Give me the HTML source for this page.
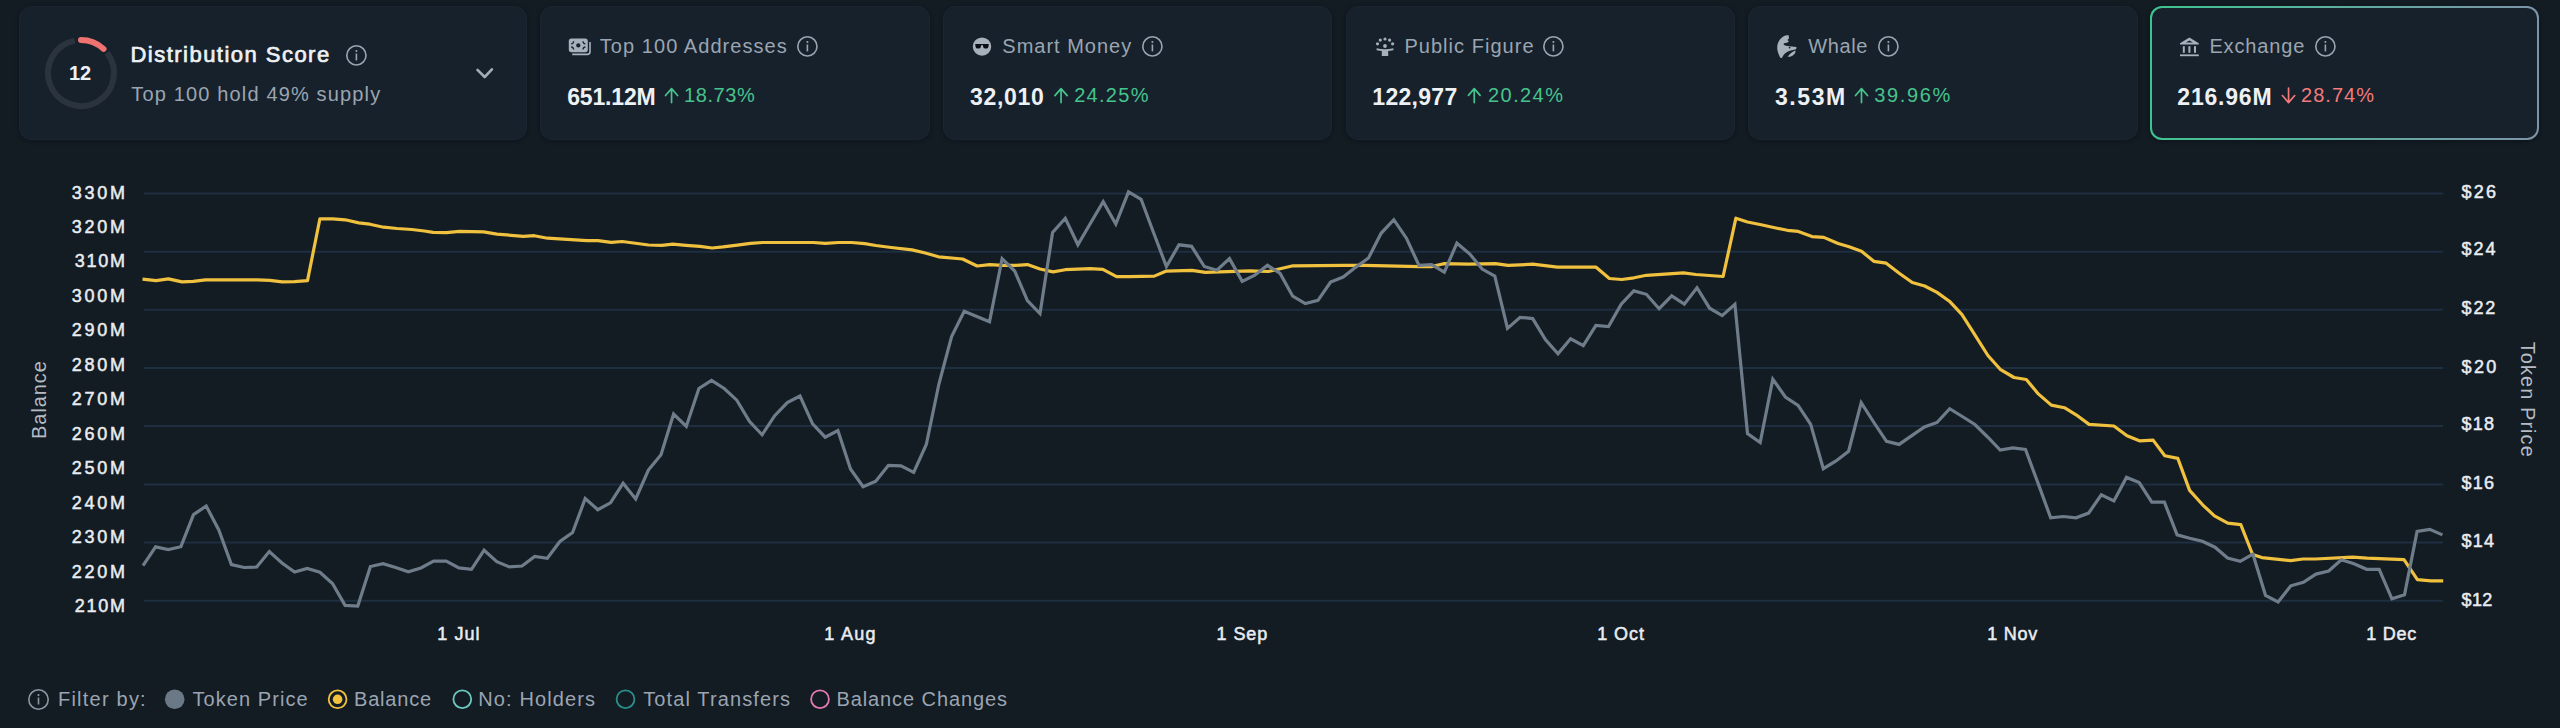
<!DOCTYPE html>
<html><head><meta charset="utf-8"><style>
html,body{margin:0;padding:0;width:2560px;height:728px;overflow:hidden;background:#131b23;font-family:"Liberation Sans", sans-serif;}
.card{position:absolute;top:5.5px;height:134.5px;border-radius:12px;background:#17212c;box-sizing:border-box;border:1px solid #1b2531;box-shadow:0 1px 4px rgba(0,0,0,0.28);}
.card.ex{border:2px solid transparent;background:linear-gradient(#17212c,#17212c) padding-box,linear-gradient(90deg,#3fc48f 0%,#58b39e 40%,#7d93a8 100%) border-box;}
.ic{position:absolute;overflow:visible}
.t{position:absolute;white-space:nowrap;line-height:24px}
svg.chart{position:absolute;left:0;top:0}
.grid line{stroke:#1e2f42;stroke-width:2}
.axt{font-family:"Liberation Sans", sans-serif;font-size:20px;fill:#b4bbc4;letter-spacing:0.6px}
</style></head><body>
<div class="card" style="left:19px;width:508px"></div>
<div class="card" style="left:540px;width:390px"></div>
<div class="card" style="left:943px;width:389px"></div>
<div class="card" style="left:1346px;width:389px"></div>
<div class="card" style="left:1748px;width:390px"></div>
<div class="card ex" style="left:2150px;width:389px"></div>
<svg class="ic" style="left:41px;top:33px" width="80" height="80" viewBox="0 0 80 80">
<path d="M 66.00 19.68 A 33 33 0 1 1 33.70 7.61" fill="none" stroke="#2a333e" stroke-width="6"/>
<path d="M 40 7 A 33 33 0 0 1 62.51 15.87" fill="none" stroke="#ef7370" stroke-width="6" stroke-linecap="round"/>
</svg>
<svg class="ic" style="left:474px;top:64px" width="22" height="18" viewBox="0 0 22 18"><path d="M3.5 5.8 L10.7 13 L17.9 5.3" fill="none" stroke="#a3adb8" stroke-width="2.6" stroke-linecap="round" stroke-linejoin="round"/></svg>
<svg class="ic" style="left:567px;top:37px" width="26" height="20" viewBox="0 0 26 20">
<rect x="1.8" y="1.6" width="19" height="13.6" rx="2.6" fill="#a7b1bc"/>
<path d="M23 5 V14.8 a2.6 2.6 0 0 1 -2.6 2.6 H5.2" fill="none" stroke="#a7b1bc" stroke-width="1.6"/>
<circle cx="11.3" cy="8.4" r="2.1" fill="#17212c"/>
<path d="M6.6 4.2 q0 2.4 -2.4 2.6 M16 4.2 q0 2.4 2.4 2.6 M6.6 12.6 q0 -2.4 -2.4 -2.6 M16 12.6 q0 -2.4 2.4 -2.6" fill="none" stroke="#1a2230" stroke-width="1.3"/>
</svg>
<svg class="ic" style="left:972px;top:36px" width="21" height="21" viewBox="0 0 21 21">
<circle cx="10" cy="10.6" r="9.2" fill="#a7b1bc"/>
<path d="M3.2 8.1 H16.8 L16.4 11 Q16 12.5 14.4 12.5 H13.2 Q11.6 12.5 11.2 11 L10.9 9.3 H9.1 L8.8 11 Q8.4 12.5 6.8 12.5 H5.6 Q4 12.5 3.6 11 Z" fill="#0b0f15"/>
</svg>
<svg class="ic" style="left:1374px;top:36px" width="22" height="22" viewBox="0 0 22 22">
<g fill="#a7b1bc">
<circle cx="6.3" cy="4.1" r="1.6"/><circle cx="11" cy="3" r="1.6"/><circle cx="15.6" cy="4.1" r="1.6"/>
<circle cx="3.5" cy="7.8" r="1.6"/><circle cx="18.6" cy="7.8" r="1.6"/><circle cx="11" cy="10" r="1.9"/>
<path d="M2.6 12.3 Q11 14.2 19.4 12.3 L19.4 14.2 Q15.5 15 14.2 15 V20 H7.8 V15 Q6.5 15 2.6 14.2 Z"/>
</g></svg>
<svg class="ic" style="left:1775px;top:33px" width="24" height="27" viewBox="0 0 24 27">
<path fill="#a7b1bc" d="M9.5 2.7 L13.4 2 Q14 3.8 13.9 5.6 Q13.2 6.3 12.4 6.9 Q13.4 7.6 13.9 8.6 Q12.8 9.6 11.7 9.7 L9.1 10.2 Q8.4 11 8.7 11.6 Q9.6 12.5 10.8 12.7 Q12.6 13.1 14.3 13.3 L21.4 14 Q21.5 15.3 21 16.2 Q18.2 16.8 15.6 17.6 Q13.4 18.3 11.7 19.3 Q9.7 20.4 8.6 22 Q7.6 23.4 6.9 25.1 L5.6 25.1 Q4.5 23.6 3.8 21.6 Q2.6 19 2.3 16.3 Q2.1 13.8 2.5 11.5 Q3.3 8.8 4.7 6.7 Q6.8 4.2 9.5 2.7 Z"/>
<path fill="#a7b1bc" d="M12.6 23.8 Q14.2 21.4 16.1 19.9 Q18.2 18.2 20.5 17.4 Q20.6 19.1 20 20.3 Q18.8 22 17 22.9 Q15.2 23.8 12.6 23.8 Z"/>
<circle cx="14.6" cy="14.6" r="0.85" fill="#17212c"/>
</svg>
<svg class="ic" style="left:2178px;top:35px" width="23" height="23" viewBox="0 0 23 23">
<g fill="#a7b1bc">
<path d="M2 8.2 L11.4 2.6 L20.8 8.2 L20.8 9.6 L2 9.6 Z"/>
<rect x="4.8" y="11.2" width="2" height="6.6"/><rect x="10.4" y="11.2" width="2" height="6.6"/><rect x="16" y="11.2" width="2" height="6.6"/>
<rect x="2" y="19.4" width="18.8" height="1.8"/>
</g>
<path d="M7.8 7.6 L11.4 5.4 L15 7.6 Z" fill="#17212c"/>
</svg>
<svg class="ic" style="left:343.50px;top:42.50px" width="24.8" height="24.8" viewBox="0 0 24.8 24.8"><circle cx="12.4" cy="12.4" r="9.60" fill="none" stroke="#9ba5b1" stroke-width="1.6"/><circle cx="12.4" cy="8.00" r="1.05" fill="#9ba5b1"/><rect x="11.60" y="10.50" width="1.6" height="6.9" fill="#9ba5b1"/></svg>
<svg class="ic" style="left:795.20px;top:34.30px" width="24.8" height="24.8" viewBox="0 0 24.8 24.8"><circle cx="12.4" cy="12.4" r="9.60" fill="none" stroke="#9ba5b1" stroke-width="1.6"/><circle cx="12.4" cy="8.00" r="1.05" fill="#9ba5b1"/><rect x="11.60" y="10.50" width="1.6" height="6.9" fill="#9ba5b1"/></svg>
<svg class="ic" style="left:1140.30px;top:34.30px" width="24.8" height="24.8" viewBox="0 0 24.8 24.8"><circle cx="12.4" cy="12.4" r="9.60" fill="none" stroke="#9ba5b1" stroke-width="1.6"/><circle cx="12.4" cy="8.00" r="1.05" fill="#9ba5b1"/><rect x="11.60" y="10.50" width="1.6" height="6.9" fill="#9ba5b1"/></svg>
<svg class="ic" style="left:1541.30px;top:34.30px" width="24.8" height="24.8" viewBox="0 0 24.8 24.8"><circle cx="12.4" cy="12.4" r="9.60" fill="none" stroke="#9ba5b1" stroke-width="1.6"/><circle cx="12.4" cy="8.00" r="1.05" fill="#9ba5b1"/><rect x="11.60" y="10.50" width="1.6" height="6.9" fill="#9ba5b1"/></svg>
<svg class="ic" style="left:1876.10px;top:34.30px" width="24.8" height="24.8" viewBox="0 0 24.8 24.8"><circle cx="12.4" cy="12.4" r="9.60" fill="none" stroke="#9ba5b1" stroke-width="1.6"/><circle cx="12.4" cy="8.00" r="1.05" fill="#9ba5b1"/><rect x="11.60" y="10.50" width="1.6" height="6.9" fill="#9ba5b1"/></svg>
<svg class="ic" style="left:2312.90px;top:34.30px" width="24.8" height="24.8" viewBox="0 0 24.8 24.8"><circle cx="12.4" cy="12.4" r="9.60" fill="none" stroke="#9ba5b1" stroke-width="1.6"/><circle cx="12.4" cy="8.00" r="1.05" fill="#9ba5b1"/><rect x="11.60" y="10.50" width="1.6" height="6.9" fill="#9ba5b1"/></svg>
<svg class="ic" style="left:0;top:0" width="2560" height="140" viewBox="0 0 2560 140"><path d="M671.55 89 V102.6 M665.50 95.55 L671.55 88.6 L677.60 95.55" fill="none" stroke="#46c48d" stroke-width="1.7" stroke-linecap="round" stroke-linejoin="round"/><path d="M1061.05 89 V102.6 M1054.90 95.65 L1061.05 88.6 L1067.20 95.65" fill="none" stroke="#46c48d" stroke-width="1.7" stroke-linecap="round" stroke-linejoin="round"/><path d="M1474.25 89 V102.6 M1468.40 95.35 L1474.25 88.6 L1480.10 95.35" fill="none" stroke="#46c48d" stroke-width="1.7" stroke-linecap="round" stroke-linejoin="round"/><path d="M1861.50 89 V102.6 M1855.50 95.50 L1861.50 88.6 L1867.50 95.50" fill="none" stroke="#46c48d" stroke-width="1.7" stroke-linecap="round" stroke-linejoin="round"/><path d="M2288.55 88 V102.2 M2282.40 95.55 L2288.55 102.6 L2294.70 95.55" fill="none" stroke="#f27a7a" stroke-width="1.7" stroke-linecap="round" stroke-linejoin="round"/></svg>
<svg class="chart" width="2560" height="728" viewBox="0 0 2560 728">
<g class="grid"><line x1="144" y1="193.5" x2="2443" y2="193.5"/><line x1="144" y1="251.7" x2="2443" y2="251.7"/><line x1="144" y1="309.8" x2="2443" y2="309.8"/><line x1="144" y1="368.0" x2="2443" y2="368.0"/><line x1="144" y1="426.1" x2="2443" y2="426.1"/><line x1="144" y1="484.4" x2="2443" y2="484.4"/><line x1="144" y1="542.6" x2="2443" y2="542.6"/><line x1="144" y1="600.8" x2="2443" y2="600.8"/></g>
<text class="axt" transform="translate(46.3,399.6) rotate(-90)" text-anchor="middle" style="letter-spacing:0.9px">Balance</text>
<text class="axt" transform="translate(2521.3,399.8) rotate(90)" text-anchor="middle" style="letter-spacing:1.05px">Token Price</text>
<polyline points="142.5,279.2 156.1,280.6 168.4,278.9 182.0,281.9 193.2,281.4 205.5,279.8 232.7,279.8 257.4,279.8 269.8,280.4 282.2,281.9 294.5,281.6 307.5,280.6 319.9,218.8 332.8,218.8 345.2,219.8 358.8,222.9 369.9,224.2 383.5,227.2 397.1,228.5 411.9,229.5 424.3,231.0 433.2,232.4 446.4,232.7 459.6,231.3 483.7,231.9 496.9,234.1 523.3,236.3 534.3,235.7 547.5,238.2 587.0,240.7 598.0,240.7 611.2,242.3 622.2,241.5 648.6,245.0 661.8,245.3 672.7,244.2 686.0,245.3 700.0,246.4 712.1,248.0 723.1,246.9 737.4,245.1 750.5,243.3 762.6,242.5 813.2,242.5 825.3,243.3 838.5,242.5 851.6,242.5 864.8,243.6 875.8,245.5 891.2,247.5 912.1,249.9 925.3,253.0 938.5,256.8 962.6,259.0 977.1,266.0 989.7,264.6 1002.8,265.4 1015.9,265.4 1027.4,264.6 1040.0,269.0 1053.1,271.9 1065.2,269.7 1090.3,268.7 1102.9,269.3 1116.6,276.6 1129.1,276.6 1154.3,276.1 1165.8,271.2 1192.0,270.4 1205.2,272.3 1250.0,270.8 1268.4,271.5 1293.0,265.8 1344.8,265.4 1364.6,265.4 1419.0,266.6 1431.4,266.6 1443.7,263.7 1468.4,264.2 1495.6,263.7 1508.0,265.4 1532.7,264.2 1557.4,267.1 1595.8,267.1 1609.4,278.5 1621.7,279.5 1634.1,277.8 1646.4,275.3 1683.5,272.8 1695.9,274.5 1723.1,276.5 1735.9,218.2 1747.5,222.0 1761.2,224.8 1773.6,227.5 1787.3,230.3 1798.3,231.4 1812.0,236.6 1823.8,237.4 1838.1,243.5 1849.1,246.8 1861.5,251.2 1873.8,261.3 1886.2,263.2 1899.9,273.7 1912.3,282.5 1924.7,286.0 1937.0,292.4 1949.4,301.2 1961.8,314.3 1974.1,333.6 1987.9,355.5 2000.2,369.3 2014.0,377.5 2026.3,379.5 2038.3,393.9 2051.3,405.1 2064.4,407.7 2076.1,414.8 2089.1,424.4 2113.9,426.0 2127.0,435.7 2140.0,440.9 2153.1,440.1 2164.8,455.7 2177.8,458.4 2189.6,490.4 2202.6,504.8 2214.4,515.8 2227.8,523.2 2240.8,524.6 2252.6,554.5 2261.8,557.6 2290.7,560.7 2303.0,559.0 2315.4,559.0 2352.5,557.2 2367.0,558.2 2404.0,559.7 2417.4,579.6 2430.8,580.9 2443.2,580.9" fill="none" stroke="#f0c13e" stroke-width="3.2" stroke-linejoin="round"/>
<polyline points="143.0,565.6 155.6,546.9 168.3,549.6 180.9,546.7 193.5,514.6 206.2,506.0 218.8,530.0 231.4,564.6 244.1,567.5 256.7,567.0 269.3,551.5 282.0,563.0 294.6,572.0 307.2,568.5 319.9,572.3 332.5,583.5 345.1,605.4 357.8,606.0 370.4,566.5 383.0,563.7 395.7,567.5 408.3,571.7 420.9,568.0 433.6,561.2 446.2,561.2 458.9,567.9 471.5,569.4 484.1,550.2 496.8,561.7 509.4,566.9 522.0,566.0 534.7,556.5 547.3,558.3 559.9,541.5 572.6,532.5 585.2,498.6 597.8,509.7 610.5,502.8 623.1,483.2 635.7,499.0 648.4,470.1 661.0,454.8 673.6,414.0 686.3,426.4 698.9,388.5 711.5,380.4 724.2,388.5 736.8,400.2 749.4,421.4 762.1,434.8 774.7,415.7 787.3,402.6 800.0,396.0 812.6,423.9 825.2,437.2 837.9,430.6 850.5,468.9 863.1,486.7 875.8,481.2 888.4,465.3 901.0,465.8 913.7,472.3 926.3,444.5 938.9,384.0 951.6,336.6 964.2,311.2 976.8,316.5 989.5,321.8 1002.1,258.6 1014.7,271.0 1027.4,300.6 1040.0,313.5 1052.6,232.4 1065.3,218.3 1077.9,244.8 1090.6,223.0 1103.2,201.8 1115.8,224.0 1128.5,191.9 1141.1,199.3 1153.7,233.0 1166.4,266.5 1179.0,244.8 1191.6,246.3 1204.3,266.5 1216.9,270.2 1229.5,258.6 1242.2,281.4 1254.8,275.2 1267.4,265.3 1280.1,273.4 1292.7,296.2 1305.3,303.6 1318.0,300.4 1330.6,282.0 1343.2,277.0 1355.9,267.1 1368.5,258.0 1381.1,233.3 1393.8,219.7 1406.4,238.2 1419.0,265.4 1431.7,264.7 1444.3,272.1 1456.9,243.2 1469.6,253.8 1482.2,269.1 1494.8,276.0 1507.5,328.4 1520.1,317.3 1532.7,318.6 1545.4,339.6 1558.0,353.7 1570.6,338.8 1583.3,345.7 1595.9,325.5 1608.5,326.5 1621.2,304.2 1633.8,290.9 1646.4,294.3 1659.1,308.7 1671.7,295.8 1684.3,304.2 1697.0,287.7 1709.6,308.2 1722.2,315.6 1734.9,304.2 1747.5,433.5 1760.2,442.6 1772.8,379.2 1785.4,397.0 1798.1,405.3 1810.7,424.4 1823.3,468.7 1836.0,460.9 1848.6,451.2 1861.2,402.7 1873.9,422.5 1886.5,441.3 1899.1,444.4 1911.8,435.6 1924.4,427.0 1937.0,422.5 1949.7,408.7 1962.3,416.5 1974.9,424.5 1987.6,437.0 2000.2,450.0 2012.8,447.9 2025.5,449.5 2038.1,483.4 2050.7,517.8 2063.4,516.5 2076.0,517.8 2088.6,513.1 2101.3,494.9 2113.9,500.9 2126.5,477.4 2139.2,482.6 2151.8,502.2 2164.4,502.2 2177.1,534.8 2189.7,538.2 2202.3,541.3 2215.0,547.2 2227.6,558.0 2240.2,561.3 2252.9,554.1 2265.5,595.3 2278.1,601.9 2290.8,585.8 2303.4,582.3 2316.0,574.1 2328.7,571.0 2341.3,559.7 2354.0,563.8 2366.6,569.3 2379.2,569.3 2391.9,598.8 2404.5,594.7 2417.1,531.4 2429.8,529.4 2442.4,534.9" fill="none" stroke="#6f7d8b" stroke-width="3.2" stroke-linejoin="miter" stroke-miterlimit="3"/>
</svg>
<svg class="ic" style="left:26.10px;top:687.00px" width="25.0" height="25.0" viewBox="0 0 25.0 25.0"><circle cx="12.5" cy="12.5" r="9.70" fill="none" stroke="#8d97a3" stroke-width="1.6"/><circle cx="12.5" cy="8.10" r="1.05" fill="#8d97a3"/><rect x="11.70" y="10.60" width="1.6" height="6.9" fill="#8d97a3"/></svg>
<svg class="ic" style="left:150px;top:680px" width="900" height="40" viewBox="150 680 900 40">
<circle cx="174.7" cy="699.3" r="9.8" fill="#6b7886"/>
<circle cx="337.6" cy="699.3" r="8.9" fill="none" stroke="#f2c23e" stroke-width="1.8"/>
<circle cx="337.6" cy="699.3" r="4.8" fill="#f2c23e"/>
<circle cx="462.3" cy="699.2" r="8.9" fill="none" stroke="#6cc9c0" stroke-width="1.8"/>
<circle cx="625.5" cy="699.2" r="8.9" fill="none" stroke="#2a8f8c" stroke-width="1.8"/>
<circle cx="820" cy="699.2" r="8.9" fill="none" stroke="#e07ab0" stroke-width="1.8"/>
</svg>
<div class="t" style="left:130.50px;top:42.70px;font-size:22px;font-weight:normal;color:#eef1f4;letter-spacing:1.471px;-webkit-text-stroke:0.7px #eef1f4">Distribution Score</div>
<div class="t" style="left:131.30px;top:81.70px;font-size:20px;font-weight:normal;color:#9ba5b1;letter-spacing:1.155px">Top 100 hold 49% supply</div>
<div class="t" style="left:69.00px;top:60.50px;font-size:20px;font-weight:bold;color:#eef1f4;letter-spacing:0.000px">12</div>
<div class="t" style="left:599.80px;top:34.20px;font-size:20px;font-weight:normal;color:#9ba5b1;letter-spacing:1.050px">Top 100 Addresses</div>
<div class="t" style="left:1002.30px;top:34.20px;font-size:20px;font-weight:normal;color:#9ba5b1;letter-spacing:1.000px">Smart Money</div>
<div class="t" style="left:1404.40px;top:34.20px;font-size:20px;font-weight:normal;color:#9ba5b1;letter-spacing:1.033px">Public Figure</div>
<div class="t" style="left:1808.20px;top:34.20px;font-size:20px;font-weight:normal;color:#9ba5b1;letter-spacing:0.650px">Whale</div>
<div class="t" style="left:2209.40px;top:34.20px;font-size:20px;font-weight:normal;color:#9ba5b1;letter-spacing:0.857px">Exchange</div>
<div class="t" style="left:567.20px;top:84.60px;font-size:23px;font-weight:bold;color:#eef1f4;letter-spacing:-0.167px">651.12M</div>
<div class="t" style="left:969.90px;top:84.60px;font-size:23px;font-weight:bold;color:#eef1f4;letter-spacing:0.720px">32,010</div>
<div class="t" style="left:1372.30px;top:84.60px;font-size:23px;font-weight:bold;color:#eef1f4;letter-spacing:0.300px">122,977</div>
<div class="t" style="left:1774.90px;top:84.60px;font-size:23px;font-weight:bold;color:#eef1f4;letter-spacing:1.600px">3.53M</div>
<div class="t" style="left:2177.30px;top:84.60px;font-size:23px;font-weight:bold;color:#eef1f4;letter-spacing:0.800px">216.96M</div>
<div class="t" style="left:684.10px;top:83.20px;font-size:20px;font-weight:normal;color:#46c48d;letter-spacing:0.560px">18.73%</div>
<div class="t" style="left:1074.20px;top:83.20px;font-size:20px;font-weight:normal;color:#46c48d;letter-spacing:1.280px">24.25%</div>
<div class="t" style="left:1488.10px;top:83.20px;font-size:20px;font-weight:normal;color:#46c48d;letter-spacing:1.400px">20.24%</div>
<div class="t" style="left:1874.20px;top:83.20px;font-size:20px;font-weight:normal;color:#46c48d;letter-spacing:1.640px">39.96%</div>
<div class="t" style="left:2301.00px;top:83.20px;font-size:20px;font-weight:normal;color:#f27a7a;letter-spacing:1.040px">28.74%</div>
<div class="t" style="left:71.80px;top:180.50px;font-size:18px;font-weight:normal;color:#e9ecf0;letter-spacing:2.733px;-webkit-text-stroke:0.5px #e9ecf0">330M</div>
<div class="t" style="left:71.80px;top:214.97px;font-size:18px;font-weight:normal;color:#e9ecf0;letter-spacing:2.733px;-webkit-text-stroke:0.5px #e9ecf0">320M</div>
<div class="t" style="left:74.80px;top:249.44px;font-size:18px;font-weight:normal;color:#e9ecf0;letter-spacing:1.733px;-webkit-text-stroke:0.5px #e9ecf0">310M</div>
<div class="t" style="left:71.80px;top:283.91px;font-size:18px;font-weight:normal;color:#e9ecf0;letter-spacing:2.733px;-webkit-text-stroke:0.5px #e9ecf0">300M</div>
<div class="t" style="left:71.80px;top:318.38px;font-size:18px;font-weight:normal;color:#e9ecf0;letter-spacing:2.733px;-webkit-text-stroke:0.5px #e9ecf0">290M</div>
<div class="t" style="left:71.80px;top:352.85px;font-size:18px;font-weight:normal;color:#e9ecf0;letter-spacing:2.733px;-webkit-text-stroke:0.5px #e9ecf0">280M</div>
<div class="t" style="left:71.80px;top:387.32px;font-size:18px;font-weight:normal;color:#e9ecf0;letter-spacing:2.733px;-webkit-text-stroke:0.5px #e9ecf0">270M</div>
<div class="t" style="left:71.80px;top:421.79px;font-size:18px;font-weight:normal;color:#e9ecf0;letter-spacing:2.733px;-webkit-text-stroke:0.5px #e9ecf0">260M</div>
<div class="t" style="left:71.80px;top:456.26px;font-size:18px;font-weight:normal;color:#e9ecf0;letter-spacing:2.733px;-webkit-text-stroke:0.5px #e9ecf0">250M</div>
<div class="t" style="left:71.80px;top:490.73px;font-size:18px;font-weight:normal;color:#e9ecf0;letter-spacing:2.733px;-webkit-text-stroke:0.5px #e9ecf0">240M</div>
<div class="t" style="left:71.80px;top:525.20px;font-size:18px;font-weight:normal;color:#e9ecf0;letter-spacing:2.733px;-webkit-text-stroke:0.5px #e9ecf0">230M</div>
<div class="t" style="left:71.80px;top:559.67px;font-size:18px;font-weight:normal;color:#e9ecf0;letter-spacing:2.733px;-webkit-text-stroke:0.5px #e9ecf0">220M</div>
<div class="t" style="left:74.80px;top:594.14px;font-size:18px;font-weight:normal;color:#e9ecf0;letter-spacing:1.733px;-webkit-text-stroke:0.5px #e9ecf0">210M</div>
<div class="t" style="left:2461.50px;top:179.60px;font-size:18px;font-weight:normal;color:#e9ecf0;letter-spacing:2.300px;-webkit-text-stroke:0.5px #e9ecf0">$26</div>
<div class="t" style="left:2461.50px;top:237.30px;font-size:18px;font-weight:normal;color:#e9ecf0;letter-spacing:2.000px;-webkit-text-stroke:0.5px #e9ecf0">$24</div>
<div class="t" style="left:2461.50px;top:296.00px;font-size:18px;font-weight:normal;color:#e9ecf0;letter-spacing:1.900px;-webkit-text-stroke:0.5px #e9ecf0">$22</div>
<div class="t" style="left:2461.50px;top:354.70px;font-size:18px;font-weight:normal;color:#e9ecf0;letter-spacing:2.400px;-webkit-text-stroke:0.5px #e9ecf0">$20</div>
<div class="t" style="left:2461.50px;top:412.40px;font-size:18px;font-weight:normal;color:#e9ecf0;letter-spacing:1.300px;-webkit-text-stroke:0.5px #e9ecf0">$18</div>
<div class="t" style="left:2461.50px;top:471.10px;font-size:18px;font-weight:normal;color:#e9ecf0;letter-spacing:1.300px;-webkit-text-stroke:0.5px #e9ecf0">$16</div>
<div class="t" style="left:2461.50px;top:528.80px;font-size:18px;font-weight:normal;color:#e9ecf0;letter-spacing:1.200px;-webkit-text-stroke:0.5px #e9ecf0">$14</div>
<div class="t" style="left:2461.50px;top:587.50px;font-size:18px;font-weight:normal;color:#e9ecf0;letter-spacing:0.400px;-webkit-text-stroke:0.5px #e9ecf0">$12</div>
<div class="t" style="left:437.20px;top:622.00px;font-size:18px;font-weight:normal;color:#e9ecf0;letter-spacing:1.100px;-webkit-text-stroke:0.5px #e9ecf0">1 Jul</div>
<div class="t" style="left:824.20px;top:622.00px;font-size:18px;font-weight:normal;color:#e9ecf0;letter-spacing:1.350px;-webkit-text-stroke:0.5px #e9ecf0">1 Aug</div>
<div class="t" style="left:1216.50px;top:622.00px;font-size:18px;font-weight:normal;color:#e9ecf0;letter-spacing:0.950px;-webkit-text-stroke:0.5px #e9ecf0">1 Sep</div>
<div class="t" style="left:1597.20px;top:622.00px;font-size:18px;font-weight:normal;color:#e9ecf0;letter-spacing:0.950px;-webkit-text-stroke:0.5px #e9ecf0">1 Oct</div>
<div class="t" style="left:1987.20px;top:622.00px;font-size:18px;font-weight:normal;color:#e9ecf0;letter-spacing:0.750px;-webkit-text-stroke:0.5px #e9ecf0">1 Nov</div>
<div class="t" style="left:2366.20px;top:622.00px;font-size:18px;font-weight:normal;color:#e9ecf0;letter-spacing:0.750px;-webkit-text-stroke:0.5px #e9ecf0">1 Dec</div>
<div class="t" style="left:58.00px;top:687.40px;font-size:20px;font-weight:normal;color:#9ba5b1;letter-spacing:1.222px">Filter by:</div>
<div class="t" style="left:192.40px;top:687.40px;font-size:20px;font-weight:normal;color:#9ba5b1;letter-spacing:1.080px">Token Price</div>
<div class="t" style="left:354.00px;top:687.40px;font-size:20px;font-weight:normal;color:#9ba5b1;letter-spacing:0.800px">Balance</div>
<div class="t" style="left:478.30px;top:687.40px;font-size:20px;font-weight:normal;color:#9ba5b1;letter-spacing:1.120px">No: Holders</div>
<div class="t" style="left:643.20px;top:687.40px;font-size:20px;font-weight:normal;color:#9ba5b1;letter-spacing:1.114px">Total Transfers</div>
<div class="t" style="left:836.40px;top:687.40px;font-size:20px;font-weight:normal;color:#9ba5b1;letter-spacing:0.914px">Balance Changes</div>
</body></html>
